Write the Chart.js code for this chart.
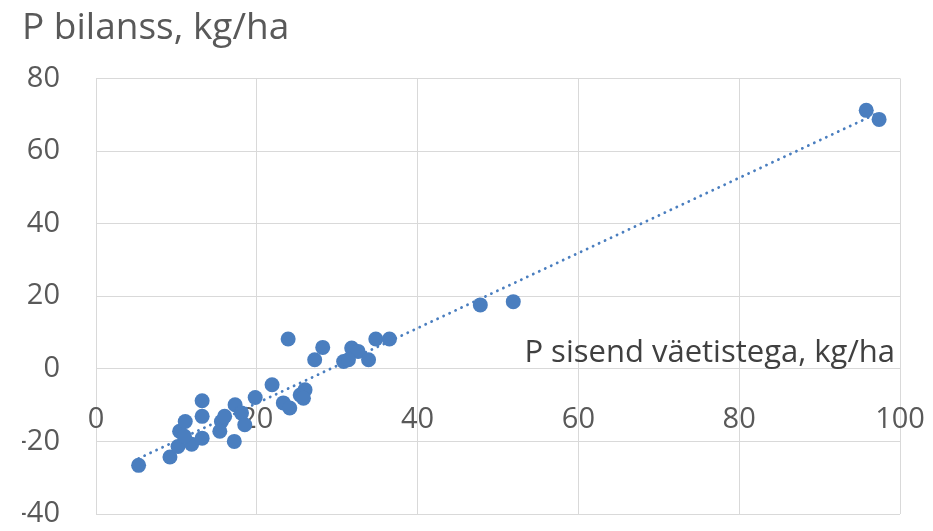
<!DOCTYPE html>
<html lang="et">
<head>
    <meta charset="UTF-8">
    <title>P bilanss</title>
    <script src="https://cdn.jsdelivr.net/npm/chart.js"></script>
    <style>
        body {
            margin: 0;
            background: #fff;
        }
        #wrap {
            width: 933px;
            height: 531px;
        }
    </style>
</head>
<body>
    <div id="wrap"><canvas id="chart" width="933" height="531"></canvas></div>

    <script>
        // P input with fertilisers (kg/ha) and resulting P balance (kg/ha)
        const pInput = [5.3, 9.2, 10.2, 11.9, 10.4, 11.1, 11.0, 13.2, 13.2, 13.2, 15.6, 15.4, 16.0, 17.3, 17.2, 18.1, 18.5, 19.8,
                        21.9, 23.3, 24.1, 25.4, 26.0, 25.8, 23.9, 28.2, 27.2, 30.8, 31.8, 32.6, 31.4, 33.9, 34.8, 36.5,
                        47.8, 51.9, 95.8, 97.4];
        const pBalance = [-26.6, -24.3, -21.4, -20.8, -17.2, -14.5, -18.6, -8.8, -13.1, -19.1, -14.5, -17.2, -13.1, -9.9, -20.0, -12.2, -15.4, -7.9,
                          -4.4, -9.4, -10.8, -7.2, -5.8, -8.1, 8.2, 5.9, 2.5, 2.0, 5.7, 4.8, 2.5, 2.5, 8.2, 8.2,
                          17.6, 18.5, 71.2, 68.7];

        // linear trendline end points
        const trendX = [5.3, 97.4];
        const trendY = [-24.7, 70.6];

        const xTicks = [0, 20, 40, 60, 80, 100];
        const yTicks = [-40, -20, 0, 20, 40, 60, 80];

        const yTitle = 'P bilanss, kg/ha';
        const xTitle = 'P sisend väetistega, kg/ha';

        const blue = '#4A7EBF';
        const gridColor = '#D9D9D9';
        const labelColor = '#595959';
        const fontFamily = '"Open Sans", sans-serif';

        const points = pInput.map((x, i) => ({ x: x, y: pBalance[i] }));
        const trend = trendX.map((x, i) => ({ x: x, y: trendY[i] }));

        // x axis title sits above the zero line, right aligned
        const xTitlePlugin = {
            id: 'xTitle',
            afterDraw(chart) {
                const ctx = chart.ctx;
                const y0 = chart.scales.y.getPixelForValue(0);
                ctx.save();
                ctx.font = '31px ' + fontFamily;
                ctx.fillStyle = '#404040';
                ctx.textAlign = 'right';
                ctx.textBaseline = 'alphabetic';
                ctx.fillText(xTitle, chart.chartArea.right - 5, y0 - 7);
                ctx.restore();
            }
        };

        new Chart(document.getElementById('chart'), {
            type: 'scatter',
            data: {
                datasets: [
                    {
                        label: 'P bilanss',
                        data: points,
                        backgroundColor: blue,
                        borderColor: blue,
                        borderWidth: 0,
                        pointRadius: 7.5,
                        order: 0
                    },
                    {
                        label: 'Trend',
                        data: trend,
                        showLine: true,
                        borderColor: blue,
                        borderWidth: 2.8,
                        borderDash: [0.1, 6.5],
                        borderCapStyle: 'round',
                        pointRadius: 0,
                        order: 1
                    }
                ]
            },
            options: {
                responsive: false,
                animation: false,
                layout: {
                    padding: { left: 22, right: 33, top: 0, bottom: 17 }
                },
                plugins: {
                    legend: { display: false },
                    tooltip: { enabled: false },
                    title: {
                        display: true,
                        text: yTitle,
                        align: 'start',
                        color: labelColor,
                        font: { family: fontFamily, size: 37, weight: 'normal', lineHeight: 1.2 },
                        padding: { top: 6, bottom: 28 }
                    }
                },
                scales: {
                    x: {
                        type: 'linear',
                        position: { y: 0 },
                        min: 0,
                        max: 100,
                        afterBuildTicks: s => { s.ticks = xTicks.map(v => ({ value: v })); },
                        afterFit: s => { s.paddingLeft = 0; s.paddingRight = 0; s.paddingTop = 0; s.paddingBottom = 0; },
                        grid: { color: gridColor, lineWidth: 1, drawTicks: false },
                        border: { display: false },
                        ticks: {
                            color: labelColor,
                            padding: 34,
                            maxRotation: 0,
                            font: { family: fontFamily, size: 29 }
                        }
                    },
                    y: {
                        type: 'linear',
                        min: -40,
                        max: 80,
                        afterBuildTicks: s => { s.ticks = yTicks.map(v => ({ value: v })); },
                        afterFit: s => { s.width = 74; s.paddingTop = 0; s.paddingBottom = 0; },
                        grid: { color: gridColor, lineWidth: 1, drawTicks: false },
                        border: { display: false },
                        ticks: {
                            color: labelColor,
                            padding: 36,
                            font: { family: fontFamily, size: 29 }
                        }
                    }
                }
            },
            plugins: [xTitlePlugin]
        });
    </script>
</body>
</html>
